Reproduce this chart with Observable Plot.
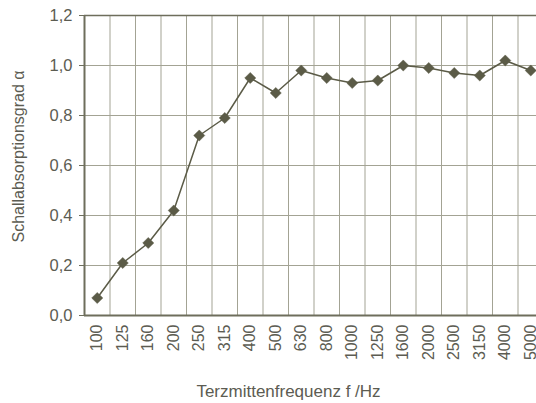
<!DOCTYPE html>
<html>
<head>
<meta charset="utf-8">
<script src="https://cdn.jsdelivr.net/npm/d3@7"></script>
<script src="https://cdn.jsdelivr.net/npm/@observablehq/plot@0.6"></script>
<style>
  html, body { margin: 0; padding: 0; background: #fff; overflow: hidden; }
  #chart { width: 536px; height: 403px; }
</style>
</head>
<body>
<div id="chart"></div>
<script>
const frequencies = ["100","125","160","200","250","315","400","500","630","800","1000","1250","1600","2000","2500","3150","4000","5000"];
const alphaValues = [0.07,0.21,0.29,0.42,0.72,0.79,0.95,0.89,0.98,0.95,0.93,0.94,1.00,0.99,0.97,0.96,1.02,0.98];
const yTicks = [0,0.2,0.4,0.6,0.8,1.0,1.2];
const xLabel = "Terzmittenfrequenz f /Hz";
const yLabel = "Schallabsorptionsgrad \u03b1";

const data = frequencies.map((f, i) => ({i, f, a: alphaValues[i]}));
const idx = frequencies.map((f, i) => i);
const bounds = frequencies.map((f, i) => i + 0.5);

const ink = "#5b5b47";
const grid = "#a3a394";
const axisCol = "#6e6e5c";
const textCol = "#5c5c52";

const chart = Plot.plot({
  width: 536,
  height: 403,
  marginTop: 15,
  marginBottom: 88,
  marginLeft: 84,
  marginRight: 0,
  style: {fontFamily: "'Liberation Sans', Arial, sans-serif", fontSize: "16px", color: textCol, background: "#fff"},
  x: {type: "linear", domain: [-0.5, frequencies.length - 0.5], range: [84, 543]},
  y: {domain: [0, 1.2], range: [315, 15]},
  marks: [
    Plot.ruleY(yTicks.slice(1, -1), {stroke: grid, strokeWidth: 1}),
    Plot.ruleX(bounds, {stroke: grid, strokeWidth: 1}),
    Plot.ruleY([1.2], {stroke: axisCol, strokeWidth: 1.5}),
    Plot.ruleY([0], {stroke: axisCol, strokeWidth: 2}),
    Plot.ruleX([-0.5], {stroke: axisCol, strokeWidth: 2}),
    Plot.axisY({ticks: yTicks, tickFormat: d => d.toFixed(1).replace(".", ","), tickSize: 5, tickPadding: 7, label: null, fontSize: 16.5, stroke: axisCol}),
    Plot.axisX({ticks: idx, tickFormat: i => frequencies[i], tickRotate: -90, tickSize: 0, tickPadding: 9, label: null, fontSize: 16}),
    Plot.line(data, {x: "i", y: "a", stroke: ink, strokeWidth: 1.5}),
    Plot.dot(data, {x: "i", y: "a", symbol: "diamond2", r: 5, fill: ink, stroke: ink, strokeWidth: 0.5}),
    Plot.text([xLabel], {frameAnchor: "bottom", textAnchor: "middle", lineAnchor: "middle", dx: -22, dy: 76, fontSize: 17, fill: textCol}),
    Plot.text([yLabel], {frameAnchor: "left", textAnchor: "middle", lineAnchor: "middle", dx: -66, dy: -9, rotate: -90, fontSize: 16, fill: textCol})
  ]
});
document.getElementById("chart").appendChild(chart);
</script>
</body>
</html>
